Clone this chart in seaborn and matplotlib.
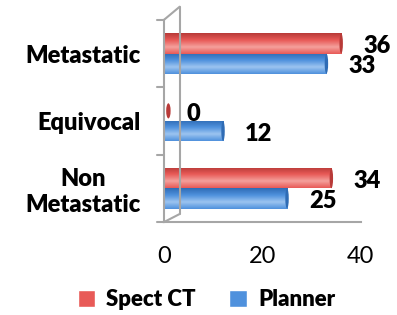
import numpy as np
import pandas as pd
import matplotlib.pyplot as plt
import seaborn as sns
from matplotlib.patches import Patch, Ellipse
from matplotlib.colors import LinearSegmentedColormap, to_rgb

# data
categories = ["Metastatic", "Equivocal", "Non\nMetastatic"]
spect_ct = [36, 0, 34]
planner = [33, 12, 25]
series_names = ["Spect CT", "Planner"]
x_ticks = [0, 20, 40]

red = "#E85A57"
blue = "#4F91DD"

df = pd.DataFrame({
    "Category": categories * 2,
    "Value": spect_ct + planner,
    "Series": [series_names[0]] * 3 + [series_names[1]] * 3,
})

sns.set_style("white")
plt.rcParams["font.family"] = ["Lato", "DejaVu Sans"]
plt.rcParams["text.color"] = "black"
plt.rcParams["xtick.color"] = "black"
plt.rcParams["ytick.color"] = "black"

fig = plt.figure(figsize=(3.97, 3.15), dpi=100)
ax = fig.add_axes([0.413, 0.295, 0.496, 0.642])

sns.barplot(data=df, y="Category", x="Value", hue="Series",
            palette=[red, blue], orient="h", width=0.6,
            ax=ax, legend=False, saturation=1)

ax.set_xlabel("")
ax.set_ylabel("")
ax.tick_params(axis="x", labelsize=17, length=5, color="#A6A6A6", pad=12, width=1.5)
ax.tick_params(axis="y", labelsize=17, length=0, pad=17)
for lbl in ax.get_yticklabels():
    lbl.set_fontweight("heavy")
    lbl.set_multialignment("center")

for s in ["top", "right"]:
    ax.spines[s].set_visible(False)
for s in ["left", "bottom"]:
    ax.spines[s].set_color("#A6A6A6")
    ax.spines[s].set_linewidth(1.5)

# faux 3D wall lines
wall = dict(color="#A6A6A6", lw=1.5, transform=ax.transAxes, clip_on=False)
ax.plot([0, 0.08], [1, 1.065], **wall)
ax.plot([0.08, 0.08], [1.065, 0.04], **wall)
ax.plot([0, 0.08], [0, 0.04], **wall)
for yy in [0, 1 / 3, 2 / 3, 1]:
    ax.plot([-0.035, 0], [yy, yy], **wall)

# cylinder shading and end caps
shades = {red: ("#F4A09C", "#E85A57", "#B83A38"), blue: ("#9CC4F0", "#4F91DD", "#2F6CB5")}
grad = np.linspace(0, 1, 64).reshape(-1, 1)
bars = list(ax.patches)
for p in bars:
    fc = red if np.allclose(p.get_facecolor()[:3], to_rgb(red)) else blue
    light, mid, dark = shades[fc]
    cmap = LinearSegmentedColormap.from_list("cyl", [mid, light, mid, dark])
    x0, y0 = p.get_x(), p.get_y()
    w, h = p.get_width(), p.get_height()
    if w > 0:
        im = ax.imshow(grad, cmap=cmap, aspect="auto", extent=(x0, x0 + w, y0, y0 + h),
                       zorder=p.get_zorder() + 0.1)
        im.set_clip_path(p)
        cap = Ellipse((x0 + w, y0 + h / 2), width=0.7, height=h * 0.98,
                      facecolor=dark, edgecolor="none", zorder=p.get_zorder() + 0.2)
    else:
        cap = Ellipse((x0 + 0.9, y0 + h / 2), width=0.9, height=h * 0.75,
                      facecolor=dark, edgecolor="none", zorder=3, clip_on=False)
    ax.add_patch(cap)
ax.set_ylim(2.5, -0.5)
ax.set_xlim(0, 40)
ax.set_xticks(x_ticks)

# value labels
for p in bars:
    w = p.get_width()
    yc = p.get_y() + p.get_height() / 2
    ax.annotate(f"{w:.0f}", xy=(w, yc), xytext=(16, -2), textcoords="offset points",
                ha="left", va="center", fontsize=17, fontweight="heavy")

handles = [Patch(facecolor=red, label=series_names[0]),
           Patch(facecolor=blue, label=series_names[1])]
fig.legend(handles=handles, loc="center", bbox_to_anchor=(0.52, 0.05), ncol=2,
           frameon=False, prop={"size": 16, "weight": "heavy"},
           handlelength=0.8, handleheight=0.8, columnspacing=1.5, handletextpad=0.5)

fig.savefig("out.png", dpi=100)
